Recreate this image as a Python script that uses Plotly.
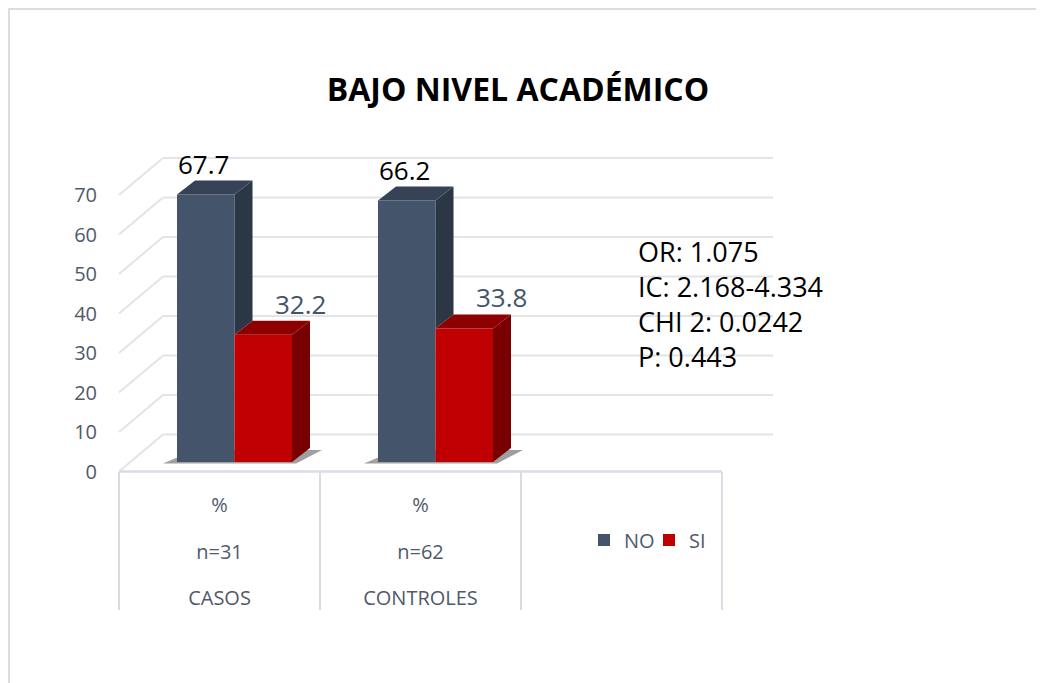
import plotly.graph_objects as go

# ---------------- data ----------------
chart_title = "BAJO NIVEL ACADÉMICO"
categories = ["CASOS", "CONTROLES"]
sample_sizes = ["n=31", "n=62"]
unit_row = ["%", "%"]
series_names = ["NO", "SI"]
values_no = [67.7, 66.2]
values_si = [32.2, 33.8]
y_ticks = [0, 10, 20, 30, 40, 50, 60, 70]
stats_lines = ["OR: 1.075", "IC: 2.168-4.334", "CHI 2: 0.0242", "P: 0.443"]

# ---------------- style / geometry (page pixels) ----------------
FONT = "Open Sans"
W, H = 1044, 683
OFF = 8                                    # page body margin offset
L, R, T, B = 100, 800, 130, 476            # plot area in page pixels
X0_PX, CELL = 119, 201                     # left edge of first category cell, cell width (px)
BASE_PX, VPX = 462, 3.95                   # bar base pixel row, pixels per value unit
FRONT_BASE_PX = 471.5                      # value 0 on the front plane

GRID_COLOR = "#E1E4E9"
EDGE_COLOR = "#D9DDE3"
TEXT_COLOR = "#4F5A6B"
NO_FRONT, NO_TOP, NO_SIDE = "#44546A", "#364356", "#2C3746"
SI_FRONT, SI_TOP, SI_SIDE = "#C00000", "#8E0000", "#780000"


def ux(px):  # pixel distance -> x units
    return px / CELL


def uy(px):  # pixel distance -> value units (up positive)
    return px / VPX


def pxp(px):  # page x pixel -> plot-area paper x
    return (px - L) / (R - L)


def pyp(py):  # page y pixel -> plot-area paper y
    return (B - py) / (B - T)


x_range = [(L - X0_PX) / CELL - 0.5, (R - X0_PX) / CELL - 0.5]
y_range = [(BASE_PX - B) / VPX, (BASE_PX - T) / VPX]
y2_range = [(FRONT_BASE_PX - B) / VPX, (FRONT_BASE_PX - T) / VPX]

FRONT_DY = -uy(FRONT_BASE_PX - BASE_PX)    # front plane relative to bar plane (y units)
DEPTH_X, DEPTH_Y = ux(44), uy(37)          # front plane -> back wall
BAR_DX, BAR_DY = ux(18), uy(14)            # bar depth
BAR_SHIFT = ux(15)                         # bar plane relative to front plane
BAR_W = ux(57.5)
n_cells = len(categories) + 1
WALL_RIGHT = n_cells - 0.5 + ux(51)

fig = go.Figure()

# ---------------- wall / floor grid (below traces) ----------------
shapes = []
left = -0.5
for v in y_ticks:
    yf = v + FRONT_DY
    yb = yf + DEPTH_Y
    shapes.append(dict(type="line", xref="x", yref="y", x0=left, y0=yf, x1=left + DEPTH_X, y1=yb,
                       line=dict(color=GRID_COLOR, width=2), layer="below"))
    shapes.append(dict(type="line", xref="x", yref="y", x0=left + DEPTH_X, y0=yb, x1=WALL_RIGHT, y1=yb,
                       line=dict(color=GRID_COLOR, width=2), layer="below"))
# front floor edge
shapes.append(dict(type="line", xref="x", yref="y", x0=left, y0=FRONT_DY, x1=left + n_cells, y1=FRONT_DY,
                   line=dict(color=EDGE_COLOR, width=2.5), layer="below"))
# category table separators
for k in range(n_cells + 1):
    shapes.append(dict(type="line", xref="x", yref="paper", x0=left + k, x1=left + k,
                       y0=pyp(472), y1=pyp(610),
                       line=dict(color=EDGE_COLOR, width=2), layer="below"))
# bar base shadows
for i in range(len(categories)):
    xl = i + BAR_SHIFT - BAR_W
    xr = i + BAR_SHIFT + BAR_W
    shapes.append(dict(type="path", xref="x", yref="y", layer="below",
                       path=f"M {xl - ux(14)},{-uy(1.5)} L {xr + ux(4)},{-uy(1.5)} "
                            f"L {xr + BAR_DX + ux(12)},{BAR_DY - uy(2)} L {xl + BAR_DX},{BAR_DY - uy(2)} Z",
                       fillcolor="rgba(80,80,80,0.55)", line=dict(width=0)))
# outer border (top and left visible)
shapes.append(dict(type="rect", xref="paper", yref="paper", x0=pxp(9), x1=pxp(1080), y0=pyp(720), y1=pyp(9),
                   line=dict(color="#DADEE4", width=2), fillcolor="rgba(0,0,0,0)", layer="below"))

# ---------------- bars (front faces) ----------------
x_no = [i + BAR_SHIFT - BAR_W / 2 for i in range(len(categories))]
x_si = [i + BAR_SHIFT + BAR_W / 2 for i in range(len(categories))]
fig.add_trace(go.Bar(x=x_no, y=values_no, width=BAR_W, name=series_names[0],
                     marker=dict(color=NO_FRONT, line=dict(width=0)), hoverinfo="y"))
fig.add_trace(go.Bar(x=x_si, y=values_si, width=BAR_W, name=series_names[1],
                     marker=dict(color=SI_FRONT, line=dict(width=0)), hoverinfo="y"))


def face(xs, ys, color):
    fig.add_trace(go.Scatter(x=xs + [xs[0]], y=ys + [ys[0]], mode="lines", fill="toself",
                             fillcolor=color, line=dict(width=0, color=color),
                             hoverinfo="skip", showlegend=False))


# ---------------- 3D side and top faces ----------------
for i in range(len(categories)):
    v_no, v_si = values_no[i], values_si[i]
    # NO bar
    xl, xr = x_no[i] - BAR_W / 2, x_no[i] + BAR_W / 2
    low = min(v_si, v_no)
    face([xr, xr, xr + BAR_DX, xr + BAR_DX], [low, v_no, v_no + BAR_DY, low + BAR_DY], NO_SIDE)
    face([xl, xr, xr + BAR_DX, xl + BAR_DX], [v_no, v_no, v_no + BAR_DY, v_no + BAR_DY], NO_TOP)
    # SI bar
    xl, xr = x_si[i] - BAR_W / 2, x_si[i] + BAR_W / 2
    face([xr, xr, xr + BAR_DX, xr + BAR_DX], [0, v_si, v_si + BAR_DY, BAR_DY], SI_SIDE)
    face([xl, xr, xr + BAR_DX, xl + BAR_DX], [v_si, v_si, v_si + BAR_DY, v_si + BAR_DY], SI_TOP)

# invisible traces so the overlaying axes are drawn
for ax in [dict(yaxis="y2"), dict(xaxis="x2"), dict(xaxis="x3")]:
    fig.add_trace(go.Scatter(x=[None], y=[None], showlegend=False, hoverinfo="skip", **ax))

# ---------------- data labels ----------------
annotations = []
for i in range(len(categories)):
    annotations.append(dict(x=x_no[i], y=values_no[i], xref="x", yref="y", text=f"{values_no[i]:.1f}",
                            showarrow=False, yshift=31, xshift=-2,
                            font=dict(family=FONT, size=26, color="#000000")))
    annotations.append(dict(x=x_si[i], y=values_si[i], xref="x", yref="y", text=f"{values_si[i]:.1f}",
                            showarrow=False, yshift=31, xshift=37,
                            font=dict(family=FONT, size=26, color="#44546A")))
# statistics block
annotations.append(dict(x=pxp(636), y=pyp(303.5), xref="paper", yref="paper", xanchor="left",
                        yanchor="middle", align="left", showarrow=False,
                        text="<br>".join(stats_lines),
                        font=dict(family=FONT, size=27, color="#000000")))

cat_ticks = list(range(len(categories)))
row_axis = dict(tickvals=cat_ticks, showgrid=False, zeroline=False, showline=False, ticks="",
                tickfont=dict(family=FONT, size=20, color=TEXT_COLOR), fixedrange=True)

fig.update_layout(
    width=W, height=H, autosize=False,
    margin=dict(l=L - OFF, r=W - (R - OFF), t=T - OFF, b=H - (B - OFF), pad=0),
    paper_bgcolor="white", plot_bgcolor="rgba(0,0,0,0)",
    barmode="overlay",
    title=dict(text=f"<b>{chart_title}</b>", xref="container", yref="container",
               x=(518 - OFF) / W, xanchor="center", y=(H - (90 - OFF)) / H, yanchor="middle",
               font=dict(family=FONT, size=32, color="#000000")),
    xaxis=dict(range=x_range, ticktext=unit_row, ticklabelstandoff=15, **row_axis),
    xaxis2=dict(range=x_range, overlaying="x", side="bottom", ticktext=sample_sizes,
                ticklabelstandoff=62, **row_axis),
    xaxis3=dict(range=x_range, overlaying="x", side="bottom", ticktext=categories,
                ticklabelstandoff=108, **row_axis),
    yaxis=dict(range=y_range, visible=False, showgrid=False, zeroline=False, fixedrange=True),
    yaxis2=dict(range=y2_range, overlaying="y", side="left", tickvals=y_ticks, showgrid=False,
                zeroline=False, showline=False, ticks="", ticklabelstandoff=2,
                tickfont=dict(family=FONT, size=20, color=TEXT_COLOR), fixedrange=True),
    showlegend=True,
    legend=dict(orientation="h", x=pxp(584), y=pyp(540), xanchor="left", yanchor="middle",
                font=dict(family=FONT, size=20, color=TEXT_COLOR), bgcolor="rgba(0,0,0,0)",
                itemwidth=30, entrywidth=20, entrywidthmode="pixels", traceorder="normal"),
    shapes=shapes,
    annotations=annotations,
)

fig.write_html("out.html")
